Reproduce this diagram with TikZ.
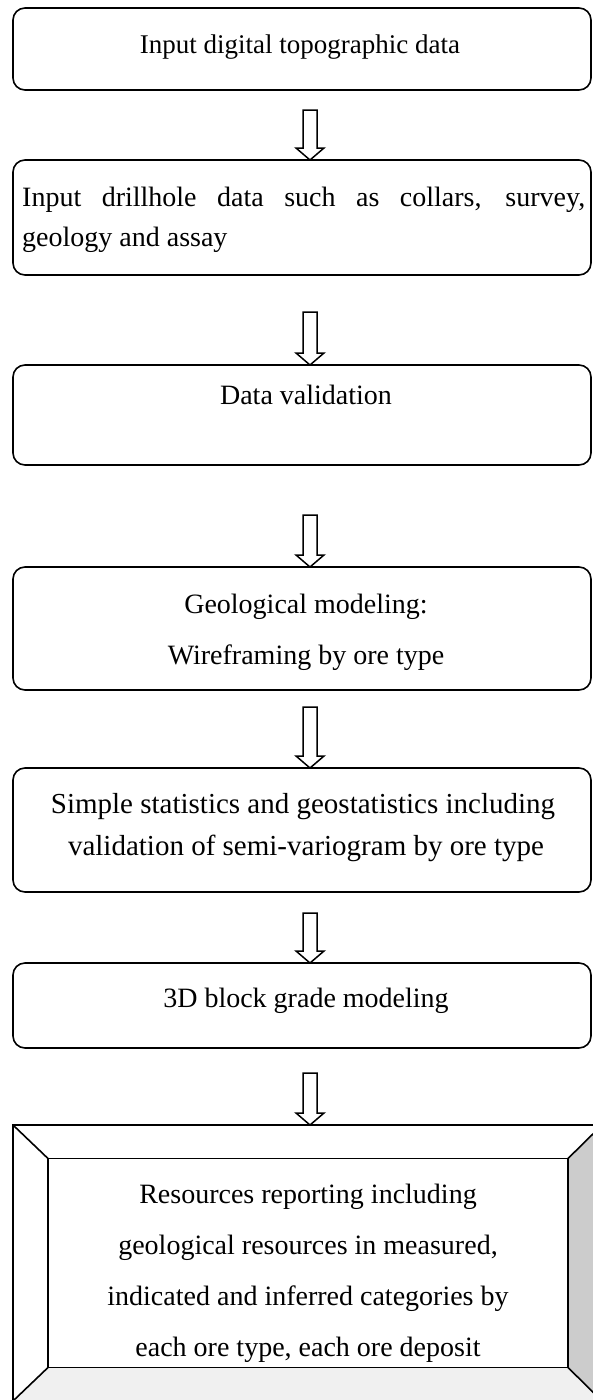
\documentclass[tikz,border=0pt]{standalone}
\usepackage{fontspec}
\setmainfont{Liberation Serif}
\usetikzlibrary{calc}
\newcommand\blkarrow[2]{%
  \draw[arrowstyle] ($(#1)+(-7,0)$) -- ($(#2)+(-7,-12)$) -- ($(#2)+(-14,-12)$) -- (#2)
    -- ($(#2)+(14,-12)$) -- ($(#2)+(7,-12)$) -- ($(#1)+(7,0)$) -- cycle;}
\begin{document}
\begin{tikzpicture}[x=1pt,y=-1pt,
  box/.style={draw, line width=1.6pt, rounded corners=12pt, minimum width=578pt, inner sep=0pt, outer sep=0pt},
  txt/.style={font=\fontsize{28}{34}\selectfont, inner sep=0pt, text height=19pt, text depth=6pt},
  firsttxt/.style={txt, font=\fontsize{27}{32}\selectfont},
  bigtxt/.style={txt, font=\fontsize{29}{35}\selectfont},
  arrowstyle/.style={draw, line width=1.5pt, fill=white, line join=miter},
  bev/.style={draw, line width=1.6pt, inner sep=0pt, outer sep=0pt}]
\useasboundingbox (0,0) rectangle (593,1400);
\clip (0,0) rectangle (593,1400);

% boxes
\node[box, minimum height=82pt]  (b1) at (302,49) {};
\node[box, minimum height=115pt] (b2) at (302,217.5) {};
\node[box, minimum height=100pt] (b3) at (302,415) {};
\node[box, minimum height=123pt] (b4) at (302,628.5) {};
\node[box, minimum height=124pt] (b5) at (302,830) {};
\node[box, minimum height=85pt]  (b6) at (302,1005.5) {};

% bevelled final box
\node[bev, minimum width=589pt, minimum height=276pt] (b7) at (307.5,1263) {};
\node[minimum width=520pt, minimum height=209pt, inner sep=0pt, outer sep=0pt] (b7in) at (308,1263) {};
\fill[gray!40] (b7.north east) -- (b7in.north east) -- (b7in.south east) -- (b7.south east) -- cycle;
\fill[gray!12] (b7.south west) -- (b7in.south west) -- (b7in.south east) -- (b7.south east) -- cycle;
\draw[line width=1.6pt] (b7.north west) -- (b7in.north west);
\draw[line width=1.6pt] (b7.north east) -- (b7in.north east);
\draw[line width=1.6pt] (b7.south west) -- (b7in.south west);
\draw[line width=1.6pt] (b7.south east) -- (b7in.south east);
\draw[line width=1.6pt] (b7in.north west) rectangle (b7in.south east);
\draw[line width=1.6pt] (b7.north west) rectangle (b7.south east);

% texts
\node[firsttxt] (t1) at (300,47) {Input digital topographic data};
\node[txt, anchor=west] (t2a) at (22,200) {\makebox[563pt][s]{Input drillhole data such as collars, survey,}};
\node[txt, anchor=west] (t2b) at (22,240) {geology and assay};
\node[txt] (t3) at (306,398) {Data validation};
\node[txt] (t4a) at (306,607) {Geological modeling:};
\node[txt] (t4b) at (306,658) {Wireframing by ore type};
\node[bigtxt] (t5a) at (303,807) {Simple statistics and geostatistics including};
\node[bigtxt] (t5b) at (306,849) {validation of semi-variogram by ore type};
\node[txt] (t6) at (306,1001) {3D block grade modeling};
\node[txt] (t7a) at (308,1197) {Resources reporting including};
\node[txt] (t7b) at (308,1248) {geological resources in measured,};
\node[txt] (t7c) at (308,1299) {indicated and inferred categories by};
\node[txt] (t7d) at (308,1350) {each ore type, each ore deposit};

% arrows
\coordinate (s1) at (310,110);  \coordinate (e1) at (b2.north -| s1);
\coordinate (s2) at (310,312);  \coordinate (e2) at (b3.north -| s2);
\coordinate (s3) at (310,515);  \coordinate (e3) at (b4.north -| s3);
\coordinate (s4) at (310,707);  \coordinate (e4) at (b5.north -| s4);
\coordinate (s5) at (310,913);  \coordinate (e5) at (b6.north -| s5);
\coordinate (s6) at (310,1073); \coordinate (e6) at (b7.north -| s6);
\blkarrow{s1}{e1}
\blkarrow{s2}{e2}
\blkarrow{s3}{e3}
\blkarrow{s4}{e4}
\blkarrow{s5}{e5}
\blkarrow{s6}{e6}
\end{tikzpicture}
\end{document}
